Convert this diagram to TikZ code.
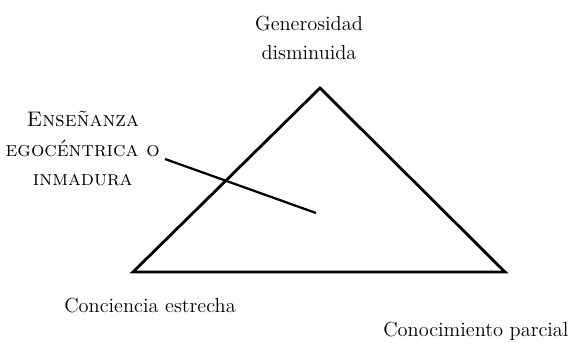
\documentclass[tikz,border=0pt]{standalone}
\begin{document}
\begin{tikzpicture}[
    lbl/.style={inner sep=0pt, align=center, font=\fontsize{14.5}{21.3}\selectfont},
    edge/.style={line width=2pt, line join=miter}
  ]
  \useasboundingbox (0,0) rectangle (14.3,8.55);

  % corners of the triangle
  \coordinate (apex) at (8,6.35);
  \coordinate (cornerL) at (3.325,1.75);
  \coordinate (cornerR) at (12.625,1.75);

  \node[lbl, anchor=base] (gen) at (7.725,7.05) {Generosidad\\disminuida};
  \node[lbl, anchor=base east] (conc) at (5.9,0.725) {Conciencia estrecha};
  \node[lbl, anchor=base west] (cono) at (9.575,0.15) {Conocimiento parcial};
  \node[lbl, anchor=base, font=\fontsize{15}{21.3}\selectfont] (ens) at (2.07,3.9)
    {\textsc{Enseñanza}\\\textsc{egocéntrica o}\\\textsc{inmadura}};

  \draw[edge] (apex) -- (cornerL) -- (cornerR) -- cycle;

  % pointer from the label into the triangle
  \coordinate (from) at (4.125,4.575);
  \coordinate (to) at (7.9,3.225);
  \draw[line width=1.6pt] (from) -- (to);
\end{tikzpicture}
\end{document}
